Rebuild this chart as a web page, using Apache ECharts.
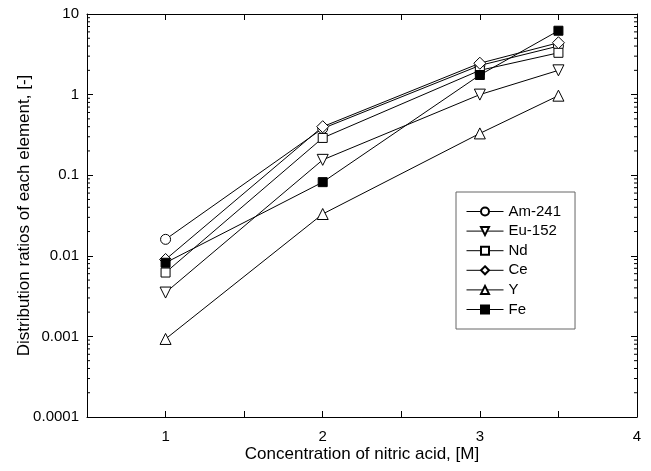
<!DOCTYPE html>
<html>
<head>
<meta charset="utf-8">
<script src="https://cdn.jsdelivr.net/npm/echarts@6/dist/echarts.min.js"></script>
<style>
  html, body { margin: 0; padding: 0; background: #fff; }
  #main { width: 651px; height: 471px; }
</style>
</head>
<body>
<div id="main"></div>
<script>
// 硝酸浓度 (M)
var concentrations = [1, 2, 3, 3.5];
// 各元素分配比
var am241 = [0.016, 0.38, 2.3, 4.0];
var eu152 = [0.0035, 0.155, 1.0, 2.0];
var nd = [0.0062, 0.29, 2.0, 3.3];
var ce = [0.009, 0.40, 2.45, 4.4];
var yt = [0.00093, 0.033, 0.33, 0.97];
var fe = [0.0082, 0.082, 1.75, 6.2];

var xTickLabels = ['1', '2', '3', '4'];
var yTickLabels = ['0.0001', '0.001', '0.01', '0.1', '1', '10'];
var decades = [0.0001, 0.001, 0.01, 0.1, 1];
var minorSteps = [2, 3, 4, 5, 6, 7, 8, 9];

var font = 'Liberation Sans';
var chart = echarts.init(document.getElementById('main'));

function pairs(arr) {
  return concentrations.map(function (x, i) { return [x, arr[i]]; });
}

// 对数轴次刻度
var minorData = [];
decades.forEach(function (d) {
  minorSteps.forEach(function (m) { minorData.push([0.5, d * m]); });
});

function lineSeries(name, arr, symbol, fill, rotate, size) {
  return {
    name: name,
    type: 'line',
    data: pairs(arr),
    symbol: symbol,
    symbolSize: size || 10,
    symbolRotate: rotate || 0,
    showAllSymbol: true,
    lineStyle: { color: '#000', width: 1 },
    itemStyle: { color: fill, borderColor: '#000', borderWidth: 1 },
    emphasis: { disabled: true },
    z: 3
  };
}

var tickStyle = { show: true, inside: true, length: 6, lineStyle: { color: '#000', width: 1 } };
var axisLineStyle = { show: true, onZero: false, lineStyle: { color: '#000', width: 1 } };

var option = {
  animation: false,
  grid: { left: 87, top: 14, right: 14, bottom: 54, containLabel: false, outerBoundsMode: 'none' },
  legend: {
    orient: 'vertical',
    left: 456,
    top: 192,
    data: ['Am-241', 'Eu-152', 'Nd', 'Ce', 'Y', 'Fe'],
    itemWidth: 37,
    itemHeight: 10,
    itemGap: 4.6,
    padding: [12, 14, 12, 10],
    borderColor: '#666',
    borderWidth: 1,
    lineStyle: { width: 1 },
    textStyle: { fontFamily: font, fontSize: 15, color: '#000' },
    selectedMode: false
  },
  xAxis: [{
    type: 'value',
    min: 0.5,
    max: 4,
    interval: 0.5,
    name: 'Concentration of nitric acid, [M]',
    nameLocation: 'middle',
    nameGap: 29,
    nameMoveOverlap: false,
    nameTextStyle: { fontFamily: font, fontSize: 17, color: '#000' },
    axisLine: axisLineStyle,
    axisTick: tickStyle,
    splitLine: { show: false },
    axisLabel: {
      fontFamily: font, fontSize: 15, color: '#000', margin: 12,
      showMinLabel: true, showMaxLabel: true,
      formatter: function (v) {
        var s = String(v);
        return xTickLabels.indexOf(s) >= 0 ? s : '';
      }
    }
  }, {
    type: 'value',
    position: 'top',
    min: 0.5,
    max: 4,
    interval: 0.5,
    axisLine: axisLineStyle,
    axisTick: tickStyle,
    axisLabel: { show: false },
    splitLine: { show: false }
  }],
  yAxis: [{
    type: 'log',
    logBase: 10,
    min: 0.0001,
    max: 10,
    name: 'Distribution ratios of each element, [-]',
    nameLocation: 'middle',
    nameGap: 54,
    nameMoveOverlap: false,
    nameTextStyle: { fontFamily: font, fontSize: 17, color: '#000' },
    axisLine: axisLineStyle,
    axisTick: tickStyle,
    splitLine: { show: false },
    axisLabel: {
      fontFamily: font, fontSize: 15, color: '#000', margin: 8,
      formatter: function (v) {
        var i = Math.round(Math.log10(v)) + 4;
        return yTickLabels[i] || '';
      }
    }
  }, {
    type: 'log',
    logBase: 10,
    min: 0.0001,
    max: 10,
    position: 'right',
    axisLine: axisLineStyle,
    axisTick: tickStyle,
    axisLabel: { show: false },
    splitLine: { show: false }
  }],
  series: [
    lineSeries('Am-241', am241, 'circle', '#fff'),
    lineSeries('Eu-152', eu152, 'triangle', '#fff', 180, 11),
    lineSeries('Nd', nd, 'rect', '#fff', 0, 9),
    lineSeries('Ce', ce, 'diamond', '#fff', 0, 12),
    lineSeries('Y', yt, 'triangle', '#fff', 0, 11),
    lineSeries('Fe', fe, 'rect', '#000', 0, 9),
    {
      // 次刻度 (左右两侧)
      type: 'custom',
      silent: true,
      data: minorData,
      renderItem: function (params, api) {
        var l = api.coord([0.5, api.value(1)]);
        var r = api.coord([4, api.value(1)]);
        return {
          type: 'group',
          children: [
            { type: 'line', shape: { x1: l[0], y1: l[1], x2: l[0] + 3, y2: l[1] }, style: { stroke: '#000', lineWidth: 1 } },
            { type: 'line', shape: { x1: r[0], y1: r[1], x2: r[0] - 3, y2: r[1] }, style: { stroke: '#000', lineWidth: 1 } }
          ]
        };
      },
      z: 1
    }
  ]
};

chart.setOption(option);
</script>
</body>
</html>
